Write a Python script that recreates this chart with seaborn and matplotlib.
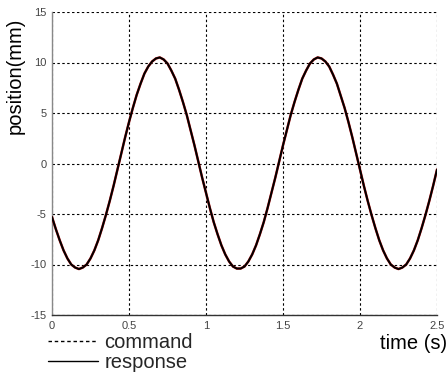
import matplotlib
matplotlib.use("Agg")
import matplotlib.pyplot as plt
import seaborn as sns
import pandas as pd
from matplotlib.lines import Line2D

# time samples (s)
time_s = [0.000, 0.025, 0.050, 0.075, 0.100, 0.125, 0.150, 0.175, 0.200, 0.225,
          0.250, 0.275, 0.300, 0.325, 0.350, 0.375, 0.400, 0.425, 0.450, 0.475,
          0.500, 0.525, 0.550, 0.575, 0.600, 0.625, 0.650, 0.675, 0.700, 0.725,
          0.750, 0.775, 0.800, 0.825, 0.850, 0.875, 0.900, 0.925, 0.950, 0.975,
          1.000, 1.025, 1.050, 1.075, 1.100, 1.125, 1.150, 1.175, 1.200, 1.225,
          1.250, 1.275, 1.300, 1.325, 1.350, 1.375, 1.400, 1.425, 1.450, 1.475,
          1.500, 1.525, 1.550, 1.575, 1.600, 1.625, 1.650, 1.675, 1.700, 1.725,
          1.750, 1.775, 1.800, 1.825, 1.850, 1.875, 1.900, 1.925, 1.950, 1.975,
          2.000, 2.025, 2.050, 2.075, 2.100, 2.125, 2.150, 2.175, 2.200, 2.225,
          2.250, 2.275, 2.300, 2.325, 2.350, 2.375, 2.400, 2.425, 2.450, 2.475,
          2.500]

# command position (mm)
command_mm = [-5.3, -6.5, -7.6, -8.6, -9.4, -10.0, -10.3, -10.45, -10.3, -10.0,
              -9.4, -8.6, -7.6, -6.4, -5.1, -3.7, -2.2, -0.6, 1.0, 2.6,
              4.1, 5.5, 6.8, 7.9, 8.9, 9.6, 10.1, 10.4, 10.5, 10.3,
              9.9, 9.2, 8.4, 7.3, 6.1, 4.8, 3.3, 1.8, 0.2, -1.4,
              -2.9, -4.4, -5.8, -7.0, -8.1, -9.0, -9.7, -10.2, -10.4, -10.4,
              -10.2, -9.7, -9.0, -8.1, -7.0, -5.8, -4.4, -2.9, -1.4, 0.2,
              1.8, 3.3, 4.8, 6.1, 7.3, 8.4, 9.2, 9.9, 10.3, 10.5,
              10.4, 10.1, 9.6, 8.8, 7.9, 6.7, 5.5, 4.1, 2.6, 1.0,
              -0.6, -2.2, -3.7, -5.1, -6.4, -7.6, -8.6, -9.4, -10.0, -10.3,
              -10.45, -10.3, -10.0, -9.4, -8.6, -7.6, -6.4, -5.1, -3.7, -2.2,
              -0.6]

# response position (mm)
response_mm = [-5.3, -6.5, -7.6, -8.6, -9.4, -10.0, -10.3, -10.45, -10.3, -10.0,
               -9.4, -8.6, -7.6, -6.4, -5.1, -3.7, -2.2, -0.6, 1.0, 2.6,
               4.1, 5.5, 6.8, 7.9, 8.9, 9.6, 10.1, 10.4, 10.5, 10.3,
               9.9, 9.2, 8.4, 7.3, 6.1, 4.8, 3.3, 1.8, 0.2, -1.4,
               -2.9, -4.4, -5.8, -7.0, -8.1, -9.0, -9.7, -10.2, -10.4, -10.4,
               -10.2, -9.7, -9.0, -8.1, -7.0, -5.8, -4.4, -2.9, -1.4, 0.2,
               1.8, 3.3, 4.8, 6.1, 7.3, 8.4, 9.2, 9.9, 10.3, 10.5,
               10.4, 10.1, 9.6, 8.8, 7.9, 6.7, 5.5, 4.1, 2.6, 1.0,
               -0.6, -2.2, -3.7, -5.1, -6.4, -7.6, -8.6, -9.4, -10.0, -10.3,
               -10.45, -10.3, -10.0, -9.4, -8.6, -7.6, -6.4, -5.1, -3.7, -2.2,
               -0.6]

x_ticks = [0, 0.5, 1, 1.5, 2, 2.5]
x_tick_labels = ["0", "0.5", "1", "1.5", "2", "2.5"]
y_ticks = [-15, -10, -5, 0, 5, 10, 15]
y_tick_labels = ["-15", "-10", "-5", "0", "5", "10", "15"]

sns.set_style("white")
plt.rcParams["font.family"] = ["Liberation Sans", "DejaVu Sans"]

df = pd.DataFrame({"t": time_s, "command": command_mm, "response": response_mm})

fig = plt.figure(figsize=(4.48, 3.73), dpi=100)
ax = fig.add_axes([52 / 448, 1 - 315 / 373, 385 / 448, 303 / 373])

sns.lineplot(data=df, x="t", y="command", ax=ax, color="#c01818",
             linewidth=1.8, zorder=3)
sns.lineplot(data=df, x="t", y="response", ax=ax, color="black",
             linewidth=1.4, zorder=4)

ax.set_xlim(0, 2.5)
ax.set_ylim(-15, 15)
ax.set_xticks(x_ticks)
ax.set_xticklabels(x_tick_labels)
ax.set_yticks(y_ticks)
ax.set_yticklabels(y_tick_labels)
ax.tick_params(length=0, labelsize=8, colors="#444444", pad=4)

ax.grid(True, color="black", linestyle=(0, (2.2, 2.2)), linewidth=0.8)
ax.set_axisbelow(True)
for s in ["top", "right"]:
    ax.spines[s].set_visible(False)
ax.spines["left"].set_color("#888888")
ax.spines["bottom"].set_color("#333333")
ax.spines["left"].set_linewidth(1.0)
ax.spines["bottom"].set_linewidth(1.0)

ax.set_ylabel("position(mm)", fontsize=14.5, color="black", va="center")
ax.yaxis.set_label_coords(-0.096, 0.79)
ax.set_xlabel("time (s)", fontsize=14.5, color="black", ha="right")
ax.xaxis.set_label_coords(1.025, -0.095)
ax.xaxis.label.set_verticalalignment("center")

handles = [Line2D([], [], color="black", linestyle=(0, (2.5, 2.0)), linewidth=1.0),
           Line2D([], [], color="black", linestyle="-", linewidth=1.0)]
leg = fig.legend(handles, ["command", "response"], loc="upper left",
                 bbox_to_anchor=(48 / 448, 1 - 333 / 373), frameon=False,
                 fontsize=14.5, handlelength=2.5, handletextpad=0.3,
                 labelspacing=0.05, borderpad=0, borderaxespad=0)

fig.savefig("out.png", dpi=100)
